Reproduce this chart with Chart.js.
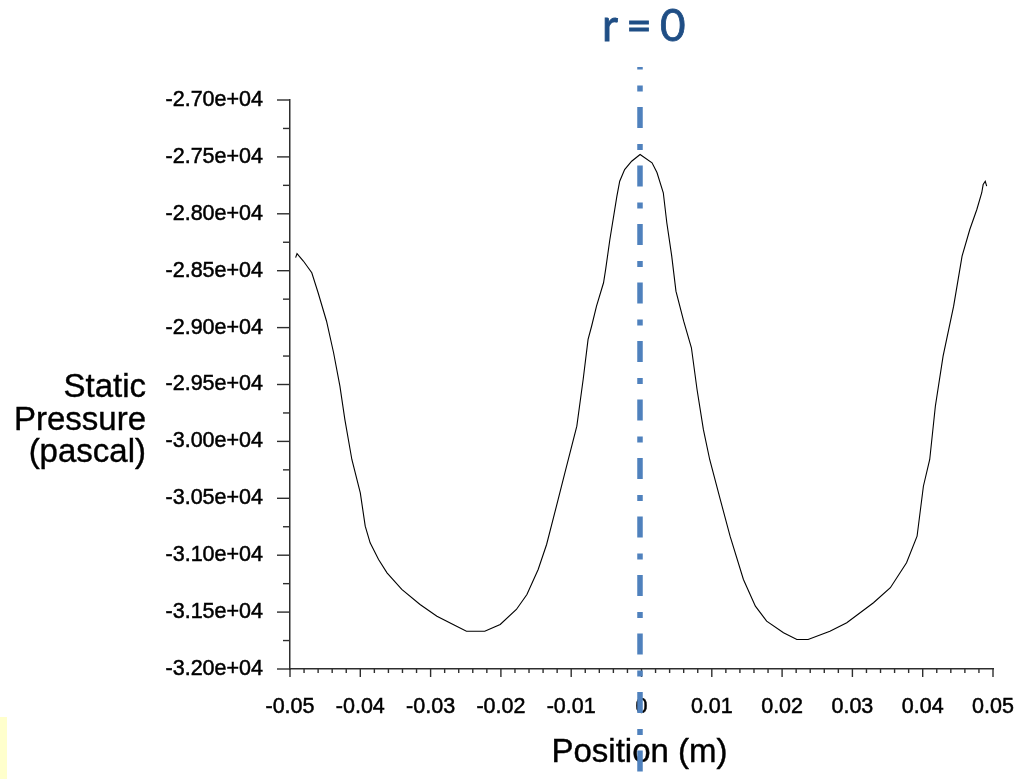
<!DOCTYPE html>
<html>
<head>
<meta charset="utf-8">
<script src="https://cdn.jsdelivr.net/npm/chart.js@4.4.1/dist/chart.umd.min.js"></script>
<style>
  html, body { margin: 0; padding: 0; background: #ffffff; }
  canvas { display: block; }
</style>
</head>
<body>
<canvas id="plot" width="1019" height="779"></canvas>
<script>
// Static pressure sampled along the radial line (m, Pa)
const positions = [
  -0.0492, -0.0490, -0.0481, -0.0469, -0.0460, -0.0448, -0.0438, -0.0429, -0.0422, -0.0412,
  -0.0400, -0.0393, -0.0386, -0.0374, -0.0362, -0.0341, -0.0315, -0.0291, -0.0263, -0.0249,
  -0.0223, -0.0201, -0.0178, -0.0163, -0.0147, -0.0135, -0.0121, -0.0109, -0.0092, -0.0083,
  -0.0076, -0.0071, -0.0064, -0.0054, -0.0051, -0.0045, -0.0035, -0.0031, -0.0024, -0.0014,
  -0.0002, 0.0015, 0.0022, 0.0031, 0.0036, 0.0043, 0.0049, 0.0060, 0.0071, 0.0079,
  0.0088, 0.0097, 0.0112, 0.0126, 0.0145, 0.0162, 0.0178, 0.0202, 0.0221, 0.0237,
  0.0268, 0.0292, 0.0330, 0.0354, 0.0377, 0.0392, 0.0401, 0.0410, 0.0418, 0.0429,
  0.0444, 0.0456, 0.0467, 0.0477, 0.0484, 0.0486, 0.0489, 0.0491
];
const pressures = [
  -28385, -28350, -28415, -28518, -28694, -28944, -29221, -29515, -29807, -30159,
  -30452, -30745, -30891, -31038, -31155, -31301, -31433, -31536, -31624, -31668,
  -31668, -31609, -31477, -31345, -31126, -30906, -30569, -30276, -29866, -29456,
  -29104, -28988, -28812, -28606, -28489, -28226, -27845, -27714, -27611, -27538,
  -27479, -27552, -27637, -27815, -28079, -28372, -28680, -28944, -29177, -29544,
  -29895, -30159, -30510, -30833, -31213, -31448, -31580, -31682, -31741, -31741,
  -31668, -31594, -31418, -31286, -31067, -30833, -30394, -30159, -29691, -29251,
  -28812, -28372, -28138, -27962, -27815, -27743, -27714, -27757
];

// Labelled ticks on each axis
const xTicks = [-0.05, -0.04, -0.03, -0.02, -0.01, 0, 0.01, 0.02, 0.03, 0.04, 0.05];
const xTickLabels = ['-0.05', '-0.04', '-0.03', '-0.02', '-0.01', '0', '0.01', '0.02', '0.03', '0.04', '0.05'];
const yTicks = [-32000, -31500, -31000, -30500, -30000, -29500, -29000, -28500, -28000, -27500, -27000];
const yTickLabels = ['-3.20e+04', '-3.15e+04', '-3.10e+04', '-3.05e+04', '-3.00e+04', '-2.95e+04',
                     '-2.90e+04', '-2.85e+04', '-2.80e+04', '-2.75e+04', '-2.70e+04'];

const xTitle = 'Position (m)';
const yTitleLines = ['Static', 'Pressure', '(pascal)'];
const axisLabel = 'r = 0';
const axisPosition = 0;

const AXIS_COLOR = '#2e2e2e';
const TICK_FONT = { family: '"Liberation Sans", Arial, sans-serif', size: 21.5 };

function labelFor(ticks, labels, value, tol) {
  const i = ticks.findIndex(v => Math.abs(v - value) < tol);
  return i >= 0 ? labels[i] : '';
}

function inkText(ctx, text, x, y, strokeWidth) {
  ctx.lineWidth = strokeWidth;
  ctx.strokeText(text, x, y);
  ctx.fillText(text, x, y);
}

// Frame decorations: tick marks, axis titles and the centre-line marker
const decorations = {
  id: 'decorations',
  beforeDraw(chart) {
    const ctx = chart.ctx;
    ctx.save();
    ctx.fillStyle = '#ffffff';
    ctx.fillRect(0, 0, chart.width, chart.height);
    ctx.fillStyle = '#ffffcc';
    ctx.fillRect(0, 717, 7, chart.height - 717);
    ctx.restore();
  },
  afterDraw(chart) {
    const ctx = chart.ctx;
    const area = chart.chartArea;
    const xs = chart.scales.x, ys = chart.scales.y;

    ctx.save();
    ctx.strokeStyle = AXIS_COLOR;
    ctx.lineWidth = 1.4;
    xs.ticks.forEach((t, i) => {
      const p = xs.getPixelForTick(i);
      const len = t.label !== '' ? 8 : 4;
      ctx.beginPath();
      ctx.moveTo(p, area.bottom);
      ctx.lineTo(p, area.bottom + len);
      ctx.stroke();
    });
    ys.ticks.forEach((t, i) => {
      const p = ys.getPixelForTick(i);
      const len = t.label !== '' ? 13 : 7;
      ctx.beginPath();
      ctx.moveTo(area.left - len, p);
      ctx.lineTo(area.left, p);
      ctx.stroke();
    });

    // axis titles
    ctx.fillStyle = '#000000';
    ctx.strokeStyle = '#000000';
    ctx.font = '33px "Liberation Sans", Arial, sans-serif';
    ctx.textAlign = 'right';
    ctx.textBaseline = 'alphabetic';
    yTitleLines.forEach((line, i) => inkText(ctx, line, 146, 397 + i * 32.5, 0.4));
    ctx.textAlign = 'center';
    inkText(ctx, xTitle, (area.left + area.right) / 2 - 2, 762, 0.4);

    // dash-dot marker through r = 0
    const mx = xs.getPixelForValue(axisPosition) - 1.5;
    ctx.strokeStyle = '#4f81bd';
    ctx.lineWidth = 5.5;
    ctx.lineCap = 'butt';
    ctx.setLineDash([21, 16, 6, 15.5]);
    ctx.lineDashOffset = 18.5;
    ctx.beginPath();
    ctx.moveTo(mx, 67);
    ctx.lineTo(mx, chart.height);
    ctx.stroke();
    ctx.setLineDash([]);

    ctx.fillStyle = '#1f4e85';
    ctx.strokeStyle = '#1f4e85';
    ctx.font = '44px Lato, "Open Sans", sans-serif';
    ctx.textAlign = 'center';
    if ('letterSpacing' in ctx) ctx.letterSpacing = '-1.5px';
    inkText(ctx, axisLabel, mx + 3, 41, 0.8);
    ctx.restore();
  }
};

new Chart(document.getElementById('plot'), {
  type: 'line',
  data: {
    datasets: [{
      data: positions.map((x, i) => ({ x: x, y: pressures[i] })),
      borderColor: '#000000',
      borderWidth: 1.1,
      pointRadius: 0,
      tension: 0,
      fill: false
    }]
  },
  options: {
    responsive: false,
    animation: false,
    events: [],
    layout: { padding: { left: 0, right: 26, top: 100, bottom: 0 } },
    plugins: { legend: { display: false }, tooltip: { enabled: false }, title: { display: false } },
    scales: {
      x: {
        type: 'linear',
        min: -0.05,
        max: 0.05,
        afterFit(scale) {
          scale.height = 110;
          scale.paddingLeft = 0;
          scale.paddingRight = 0;
        },
        border: { display: true, color: AXIS_COLOR, width: 1.5 },
        grid: { display: true, drawOnChartArea: false, drawTicks: true, tickLength: 8, tickColor: 'rgba(0,0,0,0)' },
        ticks: {
          stepSize: 0.002,
          autoSkip: false,
          maxRotation: 0,
          minRotation: 0,
          padding: 17,
          color: '#000000',
          textStrokeColor: '#000000',
          textStrokeWidth: 0.5,
          font: TICK_FONT,
          callback: v => labelFor(xTicks, xTickLabels, v, 1e-6)
        }
      },
      y: {
        type: 'linear',
        min: -32000,
        max: -27000,
        afterFit(scale) { scale.width = 290; },
        border: { display: true, color: AXIS_COLOR, width: 1.5 },
        grid: { display: true, drawOnChartArea: false, drawTicks: true, tickLength: 13, tickColor: 'rgba(0,0,0,0)' },
        ticks: {
          stepSize: 250,
          autoSkip: false,
          padding: 14,
          color: '#000000',
          textStrokeColor: '#000000',
          textStrokeWidth: 0.5,
          font: TICK_FONT,
          callback: v => labelFor(yTicks, yTickLabels, v, 1)
        }
      }
    }
  },
  plugins: [decorations]
});
</script>
</body>
</html>
